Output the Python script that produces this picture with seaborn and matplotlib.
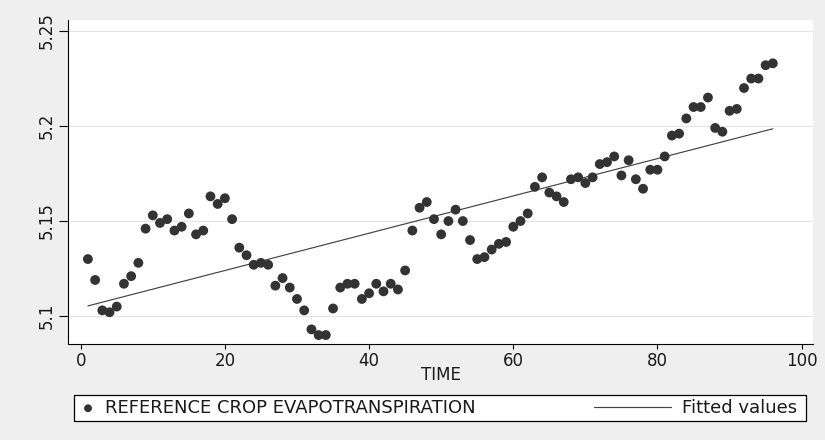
import numpy as np
import pandas as pd
import seaborn as sns
from matplotlib import pyplot as plt
from matplotlib.patches import Rectangle

# values
time = list(range(1, 97))
et0 = [
    5.130, 5.119, 5.103, 5.102, 5.105, 5.117, 5.121, 5.128, 5.146, 5.153,
    5.149, 5.151, 5.145, 5.147, 5.154, 5.143, 5.145, 5.163, 5.159, 5.162,
    5.151, 5.136, 5.132, 5.127, 5.128, 5.127, 5.116, 5.120, 5.115, 5.109,
    5.103, 5.093, 5.090, 5.090, 5.104, 5.115, 5.117, 5.117, 5.109, 5.112,
    5.117, 5.113, 5.117, 5.114, 5.124, 5.145, 5.157, 5.160, 5.151, 5.143,
    5.150, 5.156, 5.150, 5.140, 5.130, 5.131, 5.135, 5.138, 5.139, 5.147,
    5.150, 5.154, 5.168, 5.173, 5.165, 5.163, 5.160, 5.172, 5.173, 5.170,
    5.173, 5.180, 5.181, 5.184, 5.174, 5.182, 5.172, 5.167, 5.177, 5.177,
    5.184, 5.195, 5.196, 5.204, 5.210, 5.210, 5.215, 5.199, 5.197, 5.208,
    5.209, 5.220, 5.225, 5.225, 5.232, 5.233,
]
x_ticks = [0, 20, 40, 60, 80, 100]
y_ticks = [5.1, 5.15, 5.2, 5.25]
y_tick_labels = ['5.1', '5.15', '5.2', '5.25']
series_label = 'REFERENCE CROP EVAPOTRANSPIRATION'
fit_label = 'Fitted values'

df = pd.DataFrame({'TIME': time, 'ET0': et0})
slope, intercept = np.polyfit(df['TIME'], df['ET0'], 1)
df['fitted'] = intercept + slope * df['TIME']

sns.set_style('white')
plt.rcParams['font.family'] = ['DejaVu Sans']
plt.rcParams['text.color'] = '#1a1a1a'

W, H = 825, 440
fig = plt.figure(figsize=(W / 100, H / 100), dpi=100, facecolor='#efefef')
ax = fig.add_axes([68 / W, (H - 344) / H, 745 / W, 324 / H])
ax.set_facecolor('white')

sns.scatterplot(data=df, x='TIME', y='ET0', ax=ax, color='#333333', s=50,
                edgecolor='none', label=series_label, zorder=3)
sns.lineplot(data=df, x='TIME', y='fitted', ax=ax, color='#444444',
             linewidth=0.85, label=fit_label, zorder=2)
handles, labels = ax.get_legend_handles_labels()
ax.get_legend().remove()

ax.set_xlim(-1.76, 101.57)
ax.set_ylim(5.0853, 5.2558)
ax.set_xticks(x_ticks)
ax.set_yticks(y_ticks)
ax.set_yticklabels(y_tick_labels, rotation=90, va='center')
ax.grid(axis='y', color='#e4e4e4', linewidth=0.8)
ax.grid(axis='x', visible=False)

for side in ['top', 'right']:
    ax.spines[side].set_visible(False)
for side in ['left', 'bottom']:
    ax.spines[side].set_color('black')
    ax.spines[side].set_linewidth(0.8)

ax.tick_params(axis='x', length=3.6, width=0.8, pad=2.5, labelsize=12,
               bottom=True, color='black', labelcolor='#1a1a1a')
ax.tick_params(axis='y', length=6.5, width=0.8, pad=2, labelsize=12,
               left=True, color='black', labelcolor='#1a1a1a')
ax.set_xlabel('TIME', fontsize=12, va='center', color='#1a1a1a')
ax.xaxis.set_label_coords(0.5, -31 / 324)
ax.set_ylabel('')

# legend box below the plot
fig.add_artist(Rectangle((74 / W, (H - 421) / H), 732 / W, 26 / H,
                         transform=fig.transFigure, facecolor='white',
                         edgecolor='black', linewidth=0.9))
fig.legend([handles[0]], [labels[0]], loc='center left',
           bbox_to_anchor=(79 / W, (H - 408) / H), frameon=False,
           fontsize=13, handlelength=1.0, handletextpad=0.44,
           borderpad=0, borderaxespad=0, markerscale=0.8)
fig.legend([handles[1]], [labels[1]], loc='center right',
           bbox_to_anchor=(797 / W, (H - 408) / H), frameon=False,
           fontsize=13, handlelength=4.26, handletextpad=0.6,
           borderpad=0, borderaxespad=0)

fig.savefig('out.png', dpi=100, facecolor=fig.get_facecolor())
